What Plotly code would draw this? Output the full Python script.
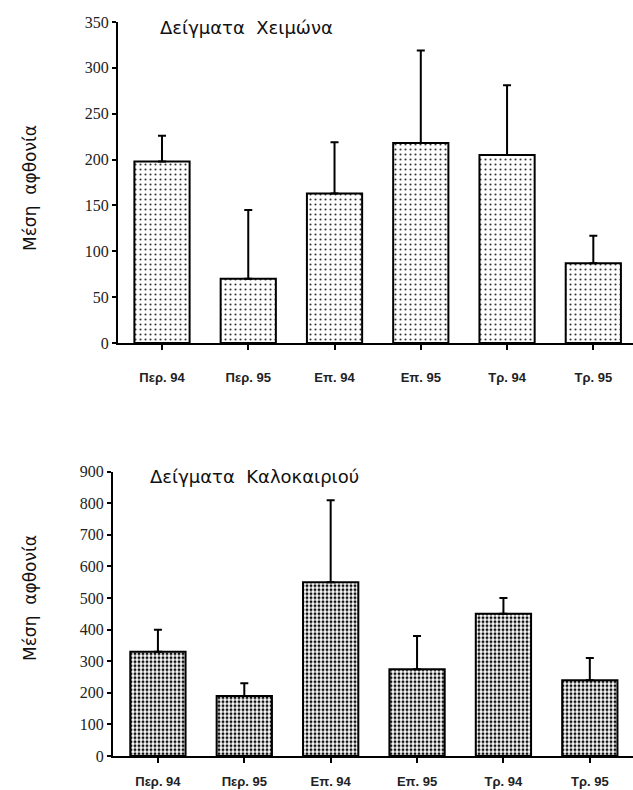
import plotly.graph_objects as go

categories = ["Περ. 94", "Περ. 95", "Επ. 94", "Επ. 95", "Τρ. 94", "Τρ. 95"]
winter_mean = [198, 70, 163, 218, 205, 87]
winter_upper = [226, 145, 219, 319, 281, 117]
summer_mean = [330, 190, 550, 275, 450, 240]
summer_upper = [400, 230, 810, 380, 500, 310]
winter_ticks = [0, 50, 100, 150, 200, 250, 300, 350]
summer_ticks = [0, 100, 200, 300, 400, 500, 600, 700, 800, 900]

W, H = 633, 790
winter_err = [u - m for u, m in zip(winter_upper, winter_mean)]
summer_err = [u - m for u, m in zip(summer_upper, summer_mean)]

fig = go.Figure()
fig.add_trace(go.Bar(
    x=list(range(len(categories))), y=winter_mean, xaxis="x", yaxis="y",
    marker=dict(color="white", line=dict(color="black", width=2),
                pattern=dict(shape=".", fgcolor="#333", bgcolor="white", size=5, solidity=0.14)),
    error_y=dict(type="data", array=winter_err, arrayminus=[0]*6, symmetric=False,
                 color="black", thickness=2, width=4),
    showlegend=False,
))
fig.add_trace(go.Bar(
    x=list(range(len(categories))), y=summer_mean, xaxis="x2", yaxis="y2",
    marker=dict(color="white", line=dict(color="black", width=2),
                pattern=dict(shape=".", fgcolor="#111", bgcolor="white", size=4, solidity=0.45)),
    error_y=dict(type="data", array=summer_err, arrayminus=[0]*6, symmetric=False,
                 color="black", thickness=2, width=4),
    showlegend=False,
))

tickfont_y = dict(family="Liberation Serif", size=16, color="#222")
tickfont_x = dict(family="Liberation Sans", size=13, color="#222", weight="bold")

common_x = dict(tickmode="array", tickvals=list(range(6)), ticktext=categories,
                showline=True, linecolor="black", linewidth=2, ticks="outside",
                ticklen=5, tickwidth=1.5, tickcolor="black", showgrid=False,
                zeroline=False, tickfont=tickfont_x, automargin=False)
common_y = dict(showline=True, linecolor="black", linewidth=2, ticks="outside",
                ticklen=4, tickwidth=1.5, tickcolor="black", showgrid=False,
                zeroline=False, tickfont=tickfont_y, tickmode="array",
                ticklabelstandoff=0, automargin=False)

title_font = dict(family="DejaVu Sans", size=18, color="#111")
ytitle_font = dict(family="DejaVu Sans", size=17, color="#111")

fig.update_layout(
    template="none",
    width=W, height=H, autosize=False,
    margin=dict(l=0, r=0, t=0, b=0, pad=0),
    paper_bgcolor="white", plot_bgcolor="white",
    bargap=0.36,
    xaxis=dict(domain=[118 / W, 1.0], range=[-0.51, 5.46], anchor="y",
               ticklabelstandoff=16, **common_x),
    yaxis=dict(domain=[(H - 343) / H, (H - 22) / H], range=[0, 350], anchor="x",
               tickvals=winter_ticks, **common_y),
    xaxis2=dict(domain=[113 / W, 1.0], range=[-0.52, 5.50], anchor="y2",
                ticklabelstandoff=7, **common_x),
    yaxis2=dict(domain=[(H - 756) / H, (H - 471.7) / H], range=[0, 900], anchor="x2",
                tickvals=summer_ticks, **common_y),
    annotations=[
        dict(text="Δείγματα\u00a0\u00a0Χειμώνα", x=158 / W, y=(H - 28) / H, xref="paper", yref="paper",
             xanchor="left", yanchor="middle", showarrow=False, font=title_font),
        dict(text="Δείγματα\u00a0\u00a0Καλοκαιριού", x=148 / W, y=(H - 476) / H, xref="paper", yref="paper",
             xanchor="left", yanchor="middle", showarrow=False, font=title_font),
        dict(text="Μέση\u00a0\u00a0αφθονία", x=30 / W, y=(H - 188) / H, xref="paper", yref="paper",
             xanchor="center", yanchor="middle", showarrow=False, textangle=-90, font=ytitle_font),
        dict(text="Μέση\u00a0\u00a0αφθονία", x=30 / W, y=(H - 598) / H, xref="paper", yref="paper",
             xanchor="center", yanchor="middle", showarrow=False, textangle=-90, font=ytitle_font),
    ],
)

fig.write_html("out.html", config={"displayModeBar": False},
               post_script="document.body.style.margin='0';")
